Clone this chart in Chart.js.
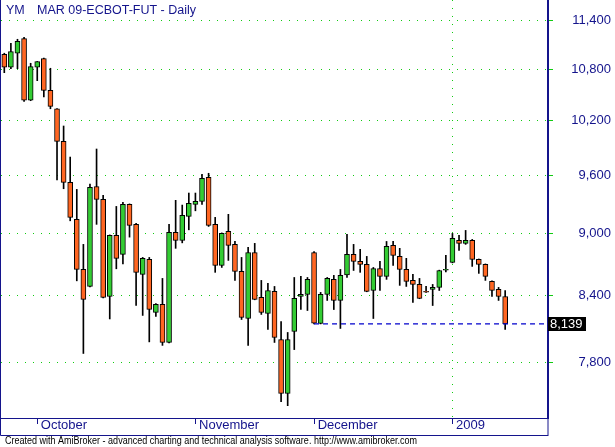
<!DOCTYPE html>
<html>
<head>
<meta charset="utf-8">
<script src="https://cdn.jsdelivr.net/npm/chart.js@4.4.1/dist/chart.umd.min.js"></script>
<style>
  html, body { margin: 0; padding: 0; background: #fff; }
  #wrap { width: 615px; height: 447px; }
</style>
</head>
<body>
<div id="wrap"><canvas id="chart" width="615" height="447"></canvas></div>
<script>
// ---- Data ----
const opens = [10983,10825,10995,11174,10435,10825,10929,10551,10337,9970,
  9526,9141,8647,8485,9482,9347,8391,8980,8793,9295,
  9091,8600,8744,8243,8317,7973,9010,8930,9172,9295,
  9326,9579,9091,8685,9020,8891,8628,8188,8811,8382,
  8234,8438,7999,7533,8071,8391,8410,8811,8143,8410,
  8552,8354,8595,8793,8724,8695,8447,8656,8580,8881,
  8773,8647,8542,8504,8438,8457,8476,8640,8715,8930,
  8901,8930,8744,8695,8533,8457,8391];
const highs = [10995,11117,11167,11191,10873,10895,10935,10813,10340,10141,
  9797,9451,8891,9508,9885,9389,8985,9274,9316,9300,
  9101,8763,8763,8326,8561,9091,9337,9288,9413,9413,
  9611,9622,9162,9005,9193,8920,8763,8861,8901,8542,
  8514,8485,8161,8062,8570,8580,8570,8821,8429,8570,
  8590,8647,8992,8891,8842,8773,8666,8724,8920,8920,
  8852,8754,8600,8561,8485,8504,8640,8783,9000,8980,
  9030,8940,8748,8700,8538,8476,8447];
const lows = [10760,10808,10808,10423,10430,10665,10473,10337,9550,9458,
  9127,8538,7876,8480,9091,8378,8184,8653,8701,8963,
  8307,8216,7978,8207,7947,7968,8852,8906,9036,9229,
  9295,9070,8619,8666,8734,8542,8179,7947,8360,8225,
  8089,7973,7466,7432,7910,8270,8261,8139,8139,8354,
  8270,8098,8570,8637,8619,8435,8188,8447,8552,8685,
  8495,8485,8336,8370,8429,8307,8447,8624,8710,8832,
  8891,8676,8609,8542,8391,8354,8089];
const closes = [10825,11014,11142,10435,10832,10893,10551,10365,9970,9526,
  9162,8647,8364,9472,9347,8382,8980,8754,9295,9080,
  8619,8754,8270,8317,7973,9010,8930,9183,9306,9326,
  9568,9080,8685,9000,8881,8628,8197,8811,8364,8243,
  8447,8017,7533,7999,8373,8410,8552,8145,8410,8561,
  8354,8590,8793,8724,8695,8438,8656,8580,8871,8783,
  8647,8533,8504,8373,8432,8476,8637,8647,8950,8901,
  8930,8744,8695,8580,8447,8391,8139];

const monthLabels = ['October', 'November', 'December', '2009'];
const monthStartBar = [5, 29, 47, 68];
const yearBar = 68;
const emptySlots = 6;
const yTickValues = [7800, 8400, 9000, 9600, 10200, 10800, 11400];
const supportStartBar = 47;

// ---- Derived ----
const lastClose = closes[closes.length - 1];
const slotCount = closes.length + emptySlots;
const xLabels = Array.from({ length: slotCount }, (_, i) => {
    const m = monthStartBar.indexOf(i);
    return m >= 0 ? ' ' + monthLabels[m] : '';
});
const supportLine = xLabels.map((_, i) => (i === supportStartBar || i === slotCount - 1) ? lastClose : null);

const navy = '#14148c';
const green = '#11cc11';
const upColor = '#33cc33';
const downColor = '#ff6622';
const fmt = v => v.toLocaleString('en-US');

// ---- Frame, title, footer, last value ----
const amiDecor = {
    id: 'amiDecor',
    afterDraw(chart) {
        const { ctx, chartArea: a, scales: { y } } = chart;
        ctx.save();
        ctx.strokeStyle = navy;
        ctx.lineWidth = 1;
        ctx.beginPath();
        ctx.moveTo(0.5, 0);
        ctx.lineTo(0.5, 435.5);
        ctx.lineTo(a.right, 435.5);
        ctx.moveTo(a.right, a.bottom);
        ctx.lineTo(a.right, 436);
        ctx.stroke();

        ctx.fillStyle = navy;
        ctx.font = '12.5px "Liberation Sans", Arial, sans-serif';
        ctx.textBaseline = 'alphabetic';
        ctx.fillText('YM', 6, 14);
        ctx.fillText('MAR 09-ECBOT-FUT - Daily', 37, 14);

        const yy = Math.round(y.getPixelForValue(lastClose));
        ctx.fillStyle = '#000';
        ctx.fillRect(a.right, yy - 7, 38, 14);
        ctx.fillStyle = '#fff';
        ctx.font = '13px "Liberation Sans", Arial, sans-serif';
        ctx.textBaseline = 'middle';
        ctx.fillText(fmt(lastClose), a.right + 2, yy + 0.5);

        const foot = 'Created with AmiBroker - advanced charting and technical analysis software. http://www.amibroker.com';
        ctx.font = '10px "Liberation Sans", Arial, sans-serif';
        ctx.fillStyle = '#000';
        ctx.textBaseline = 'alphabetic';
        const w = ctx.measureText(foot).width;
        ctx.translate(5, 444);
        ctx.scale(412 / w, 1);
        ctx.fillText(foot, 0, 0);
        ctx.restore();
    }
};

const ctx = document.getElementById('chart').getContext('2d');
new Chart(ctx, {
    data: {
        labels: xLabels,
        datasets: [
            {
                type: 'line',
                data: supportLine,
                borderColor: '#0000cc',
                borderWidth: 1.2,
                borderDash: [5, 4],
                pointRadius: 0,
                spanGaps: true,
                order: 0
            },
            {
                type: 'bar',
                data: opens.map((o, i) => [o, closes[i]]),
                backgroundColor: opens.map((o, i) => closes[i] >= o ? upColor : downColor),
                borderColor: '#000',
                borderWidth: 1,
                borderSkipped: false,
                barThickness: 5,
                grouped: false,
                order: 1
            },
            {
                type: 'bar',
                data: lows.map((l, i) => [l, highs[i]]),
                backgroundColor: '#000',
                borderWidth: 0,
                barThickness: 1,
                grouped: false,
                order: 2
            }
        ]
    },
    options: {
        responsive: false,
        animation: false,
        layout: { padding: { left: 1, right: 4, top: 0, bottom: 0 } },
        plugins: { legend: { display: false }, tooltip: { enabled: false } },
        scales: {
            x: {
                type: 'category',
                offset: true,
                grid: {
                    offset: false,
                    drawOnChartArea: true,
                    color: c => c.index === yearBar ? green : 'rgba(0,0,0,0)',
                    tickColor: c => monthStartBar.includes(c.index) ? navy : 'rgba(0,0,0,0)',
                    tickLength: 6,
                    tickBorderDash: []
                },
                border: { color: navy, width: 1, dash: [1, 7] },
                ticks: {
                    autoSkip: false,
                    maxRotation: 0,
                    align: 'start',
                    padding: -6,
                    color: navy,
                    font: { family: '"Liberation Sans", Arial, sans-serif', size: 13 },
                    callback: (v, i) => xLabels[i]
                },
                afterFit: s => { s.height = 29; s.paddingLeft = 0; s.paddingRight = 0; }
            },
            y: {
                type: 'logarithmic',
                position: 'right',
                min: 7331,
                max: 11665,
                bounds: 'data',
                grid: {
                    color: green,
                    tickColor: green,
                    tickLength: 5,
                    tickBorderDash: []
                },
                border: { color: navy, width: 2, dash: [1, 7] },
                ticks: {
                    crossAlign: 'far',
                    padding: 18,
                    color: navy,
                    font: { family: '"Liberation Sans", Arial, sans-serif', size: 13 },
                    callback: v => fmt(v)
                },
                afterBuildTicks: s => { s.ticks = yTickValues.map(v => ({ value: v })); },
                afterFit: s => { s.width = 63; s.paddingTop = 0; s.paddingBottom = 0; }
            }
        }
    },
    plugins: [amiDecor]
});
</script>
</body>
</html>
